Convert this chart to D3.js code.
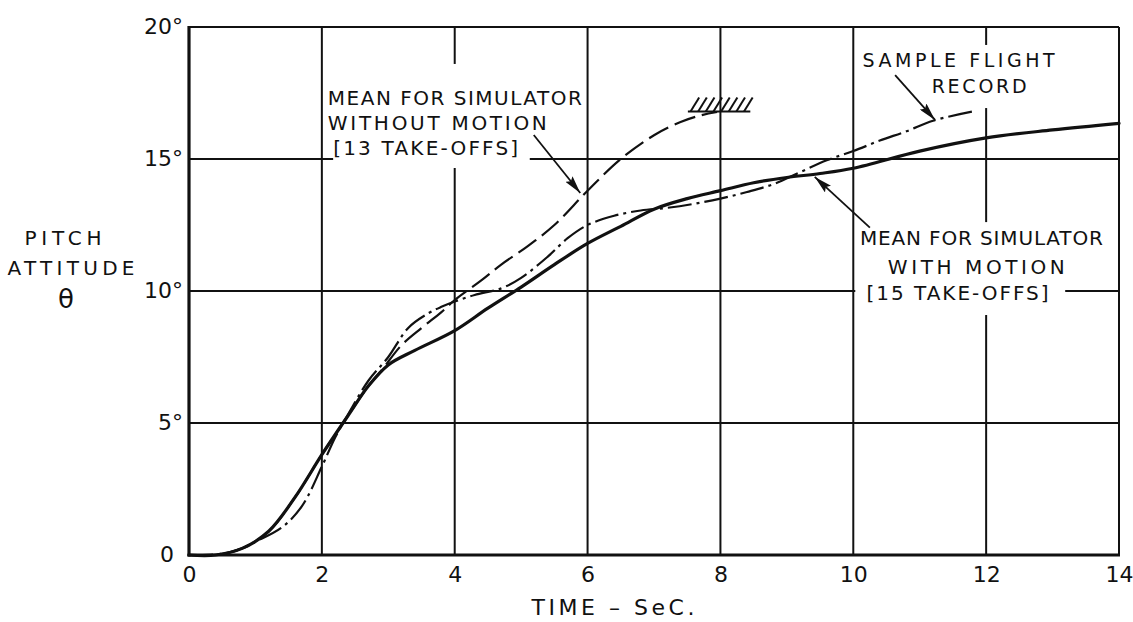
<!DOCTYPE html>
<html>
<head>
<meta charset="utf-8">
<script src="https://cdn.jsdelivr.net/npm/d3@7"></script>
<style>
  body { margin: 0; background: #fff; }
  text { font-family: "DejaVu Sans", sans-serif; fill: #111; }
</style>
</head>
<body>
<div id="chart"></div>
<script>
// time in seconds, pitch attitude in degrees
const withMotionT = [0, 0.4, 0.8, 1.2, 1.6, 2.0, 2.4, 2.7, 3.0, 3.4, 4.0, 4.5, 5.0, 5.5, 6.0, 6.5, 7.0, 7.5, 8.0, 8.5, 9.0, 9.5, 10, 11, 12, 13, 14];
const withMotionV = [0, 0, 0.25, 0.9, 2.2, 3.8, 5.3, 6.4, 7.2, 7.75, 8.5, 9.35, 10.15, 11.0, 11.8, 12.45, 13.1, 13.5, 13.8, 14.1, 14.3, 14.45, 14.65, 15.3, 15.8, 16.1, 16.35];

const withoutMotionT = [0, 0.4, 0.8, 1.2, 1.6, 2.0, 2.4, 2.7, 2.9, 3.2, 3.5, 3.8, 4.0, 4.4, 4.7, 5.1, 5.5, 6.0, 6.5, 7.0, 7.4, 7.7, 7.95];
const withoutMotionV = [0, 0, 0.25, 0.9, 2.2, 3.8, 5.3, 6.4, 7.0, 7.95, 8.6, 9.2, 9.66, 10.4, 11.0, 11.7, 12.5, 13.8, 15.0, 15.9, 16.4, 16.65, 16.78];

const flightT = [0, 0.5, 0.8, 1.0, 1.4, 1.7, 2.0, 2.2, 2.4, 2.7, 3.0, 3.3, 3.6, 3.8, 4.0, 4.3, 4.7, 5.0, 5.4, 5.7, 6.0, 6.4, 6.8, 7.2, 7.6, 8.0, 8.4, 8.8, 9.2, 9.6, 10, 10.4, 10.8, 11.2, 11.8];
const flightV = [0, 0.05, 0.25, 0.5, 1.05, 1.85, 3.35, 4.45, 5.35, 6.6, 7.5, 8.6, 9.15, 9.4, 9.6, 9.85, 10.1, 10.5, 11.3, 12.0, 12.5, 12.85, 13.05, 13.15, 13.3, 13.5, 13.75, 14.05, 14.5, 14.95, 15.3, 15.7, 16.05, 16.45, 16.8];

const xTicks = [0, 2, 4, 6, 8, 10, 12, 14];
const yTicks = [0, 5, 10, 15, 20];

// where the draftsman broke the grid lines for the lettering (data units)
const vGridBreaks = { 4: [[14.66, 18.6]], 12: [[9.09, 12.61], [16.93, 19.32]] };
const hGridBreaks = { 15: [[2.17, 5.13]], 10: [[10.03, 13.19]] };

const margin = { top: 27, right: 14, bottom: 67, left: 189 },
    width = 1133 - margin.left - margin.right,
    height = 622 - margin.top - margin.bottom;

const svg = d3.select("#chart")
    .append("svg")
    .attr("width", 1133)
    .attr("height", 622);

const defs = svg.append("defs");
defs.append("marker")
    .attr("id", "arrow")
    .attr("viewBox", "0 0 18 9")
    .attr("refX", 18)
    .attr("refY", 4.5)
    .attr("markerWidth", 18)
    .attr("markerHeight", 9)
    .attr("markerUnits", "userSpaceOnUse")
    .attr("orient", "auto")
    .append("path")
    .attr("d", "M0,0 L18,4.5 L0,9 L3,4.5 Z")
    .attr("fill", "#111");

const g = svg.append("g")
    .attr("transform", `translate(${margin.left}, ${margin.top})`);

const x = d3.scaleLinear().domain([0, 14]).range([0, width]);
const y = d3.scaleLinear().domain([0, 20]).range([height, 0]);

// grid lines, split around the lettering
function segments(lo, hi, breaks) {
    let segs = [], start = lo;
    (breaks || []).slice().sort((a, b) => a[0] - b[0]).forEach(b => {
        segs.push([start, b[0]]);
        start = b[1];
    });
    segs.push([start, hi]);
    return segs;
}

const grid = g.append("g").attr("stroke", "#111").attr("stroke-width", 2);
xTicks.filter(t => t > 0 && t < 14).forEach(t => {
    segments(0, 20, vGridBreaks[t]).forEach(s => {
        grid.append("line")
            .attr("x1", x(t)).attr("x2", x(t))
            .attr("y1", y(s[0])).attr("y2", y(s[1]));
    });
});
yTicks.filter(v => v > 0 && v < 20).forEach(v => {
    segments(0, 14, hGridBreaks[v]).forEach(s => {
        grid.append("line")
            .attr("x1", x(s[0])).attr("x2", x(s[1]))
            .attr("y1", y(v)).attr("y2", y(v));
    });
});

// frame
g.append("line").attr("x1", x(0)).attr("x2", x(14)).attr("y1", y(20)).attr("y2", y(20))
    .attr("stroke", "#111").attr("stroke-width", 2);
g.append("line").attr("x1", x(14)).attr("x2", x(14)).attr("y1", y(0)).attr("y2", y(20))
    .attr("stroke", "#111").attr("stroke-width", 2);
g.append("line").attr("x1", x(0)).attr("x2", x(0)).attr("y1", y(0) + 1.5).attr("y2", y(20) - 1)
    .attr("stroke", "#111").attr("stroke-width", 3.2);
g.append("line").attr("x1", x(0) - 1.5).attr("x2", x(14) + 1).attr("y1", y(0)).attr("y2", y(0))
    .attr("stroke", "#111").attr("stroke-width", 3.2);

// axes (labels only)
const xAxis = g.append("g")
    .attr("transform", `translate(0, ${height})`)
    .call(d3.axisBottom(x).tickValues(xTicks).tickSize(0).tickPadding(11).tickFormat(d => d));
xAxis.select(".domain").remove();
xAxis.selectAll("text")
    .style("font-size", "22px")
    .style("font-family", "'DejaVu Sans', sans-serif")
    .attr("fill", "#111");

const yAxis = g.append("g")
    .call(d3.axisLeft(y).tickValues(yTicks).tickSize(0).tickPadding(6)
        .tickFormat(d => d === 0 ? "0" : d + "°"));
yAxis.select(".domain").remove();
yAxis.selectAll("text")
    .style("font-size", "22px")
    .style("font-family", "'DejaVu Sans', sans-serif")
    .attr("fill", "#111")
    .attr("dy", "0.3em")
    .attr("x", d => d === 0 ? -15 : -6);

// curves
const line = d3.line()
    .x(d => x(d[0]))
    .y(d => y(d[1]))
    .curve(d3.curveCatmullRom.alpha(0.5));

g.append("path")
    .datum(withMotionT.map((t, i) => [t, withMotionV[i]]))
    .attr("d", line)
    .attr("fill", "none")
    .attr("stroke", "#111")
    .attr("stroke-width", 3.2)
    .attr("stroke-linecap", "round");

g.append("path")
    .datum(withoutMotionT.map((t, i) => [t, withoutMotionV[i]]))
    .attr("d", line)
    .attr("fill", "none")
    .attr("stroke", "#111")
    .attr("stroke-width", 2.2)
    .attr("stroke-dasharray", "22,7");

g.append("path")
    .datum(flightT.map((t, i) => [t, flightV[i]]))
    .attr("d", line)
    .attr("fill", "none")
    .attr("stroke", "#111")
    .attr("stroke-width", 2.2)
    .attr("stroke-dasharray", "24,5,3,5");

// hatched stop at the end of the no-motion curve
const stop = g.append("g").attr("stroke", "#111").attr("stroke-width", 2);
stop.append("line")
    .attr("x1", x(7.51)).attr("x2", x(8.45))
    .attr("y1", y(16.8)).attr("y2", y(16.8));
d3.range(8).forEach(i => {
    const t0 = 7.55 + i * 0.115;
    stop.append("line")
        .attr("x1", x(t0)).attr("y1", y(16.8))
        .attr("x2", x(t0 + 0.13)).attr("y2", y(17.33));
});

// annotations
function note(lines, size) {
    lines.forEach(l => {
        g.append("text")
            .attr("x", x(l.t))
            .attr("y", y(l.v))
            .attr("textLength", l.len)
            .attr("lengthAdjust", "spacing")
            .style("font-size", size + "px")
            .text(l.text);
    });
}

note([
    { text: "MEAN FOR SIMULATOR", t: 2.09, v: 17.05, len: 254 },
    { text: "WITHOUT MOTION", t: 2.09, v: 16.1, len: 219 },
    { text: "[13 TAKE-OFFS]", t: 2.17, v: 15.15, len: 185 }
], 20);

note([
    { text: "SAMPLE FLIGHT", t: 10.14, v: 18.5, len: 192 },
    { text: "RECORD", t: 11.18, v: 17.5, len: 95 }
], 19);

note([
    { text: "MEAN FOR SIMULATOR", t: 10.1, v: 11.75, len: 243 },
    { text: "WITH MOTION", t: 10.52, v: 10.64, len: 177 },
    { text: "[15 TAKE-OFFS]", t: 10.2, v: 9.65, len: 182 }
], 20);

const arrows = [
    { t0: 5.19, v0: 15.91, t1: 5.89, v1: 13.71 },
    { t0: 10.63, v0: 18.18, t1: 11.23, v1: 16.48 },
    { t0: 10.25, v0: 12.4, t1: 9.42, v1: 14.32 }
];
arrows.forEach(a => {
    g.append("line")
        .attr("x1", x(a.t0)).attr("y1", y(a.v0))
        .attr("x2", x(a.t1)).attr("y2", y(a.v1))
        .attr("stroke", "#111")
        .attr("stroke-width", 1.8)
        .attr("marker-end", "url(#arrow)");
});

// axis titles
svg.append("text").attr("x", 63).attr("y", 245).attr("text-anchor", "middle")
    .style("font-size", "20px").attr("textLength", 77).text("PITCH");
svg.append("text").attr("x", 71).attr("y", 275).attr("text-anchor", "middle")
    .style("font-size", "20px").attr("textLength", 127).text("ATTITUDE");
svg.append("text").attr("x", 66).attr("y", 308).attr("text-anchor", "middle")
    .style("font-size", "26px").text("θ");
svg.append("text").attr("x", 613).attr("y", 615).attr("text-anchor", "middle")
    .style("font-size", "22px").attr("textLength", 163).text("TIME – SeC.");
</script>
</body>
</html>
